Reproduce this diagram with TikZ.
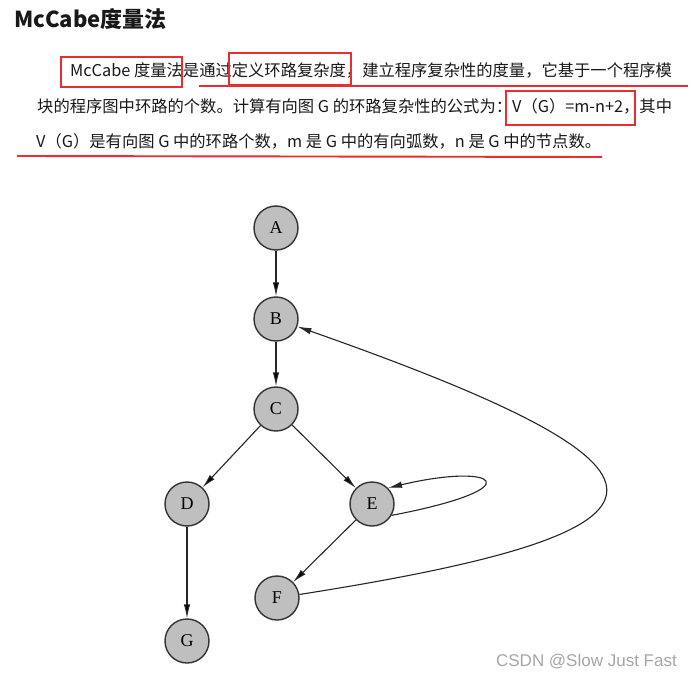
\documentclass[tikz,border=0pt]{standalone}
\usepackage{fontspec}
\setmainfont{Liberation Serif}
\newfontfamily\cjk{Noto Sans CJK SC}
\newfontfamily\wmfont{Liberation Sans}
\usetikzlibrary{positioning,arrows.meta}
\definecolor{penred}{RGB}{232,46,46}
\tikzset{
>={Latex[length=14pt,width=6.5pt]}, % long thin arrow heads
x=1pt, y=-1pt, % one unit = one pixel of the page, y going down
vertex/.style={circle, draw=black!80, fill=black!25, line width=1.4pt, minimum size=44pt, inner sep=0pt, font=\fontsize{18}{18}\selectfont},
link/.style={->, draw=black!85, line width=1.1pt},
textline/.style={anchor=base west, inner sep=0pt, font=\cjk\fontsize{16.3}{20}\selectfont, text=black!90},
redpen/.style={draw=penred, line width=1.9pt},
on grid
}

\begin{document}
\begin{tikzpicture}
   \path[fill=white,use as bounding box] (0,0) rectangle (694,677);
   % heading and text
   \node[anchor=base west, inner sep=0pt, font=\cjk\bfseries\fontsize{22}{22}\selectfont, text=black!90] (title) at (14,28) {McCabe度量法};
   \node[textline] (l1) at (70,77) {McCabe 度量法是通过定义环路复杂度，建立程序复杂性的度量，它基于一个程序模};
   \node[textline] (l2) at (37,113) {块的程序图中环路的个数。计算有向图 G 的环路复杂性的公式为：V（G）=m-n+2，其中};
   \node[textline] (l3) at (36,147) {V（G）是有向图 G 中的环路个数，m 是 G 中的有向弧数，n 是 G 中的节点数。};
   % red marks
   \draw[redpen] (61,57) rectangle (182,87);
   \draw[redpen] (229,53) rectangle (351,85);
   \draw[redpen] (506,91) rectangle (635,125);
   \draw[redpen] (199,86) -- (688,86);
   \draw[redpen] (17,156) -- (602,157);
   % the graph
   \node[vertex] (A) at (276,228) {A};
   \node[vertex] (B) [below=91pt of A] {B};
   \node[vertex] (C) [below=90pt of B] {C};
   \node[vertex] (D) [below left=95pt and 89pt of C] {D};
   \node[vertex] (E) [below right=95pt and 96pt of C] {E};
   \node[vertex] (F) [below left=94pt and 95pt of E] {F};
   \node[vertex] (G) [below=137pt of D] {G};
   \path[link]
    (A) edge (B)
    (B) edge (C)
    (C) edge (D)
    (C) edge (E)
    (D) edge (G)
    (E) edge (F);
   \draw[link] (E.-30) .. controls (535,488) and (497,462) .. (E.45);
   \draw[link] (F) .. controls (710,530) and (705,470) .. (B);
   \node[anchor=base east, inner sep=0pt, font=\wmfont\fontsize{17}{17}\selectfont, text=black!35] (wm) at (677,666) {CSDN @Slow Just Fast};
\end{tikzpicture}
\end{document}
